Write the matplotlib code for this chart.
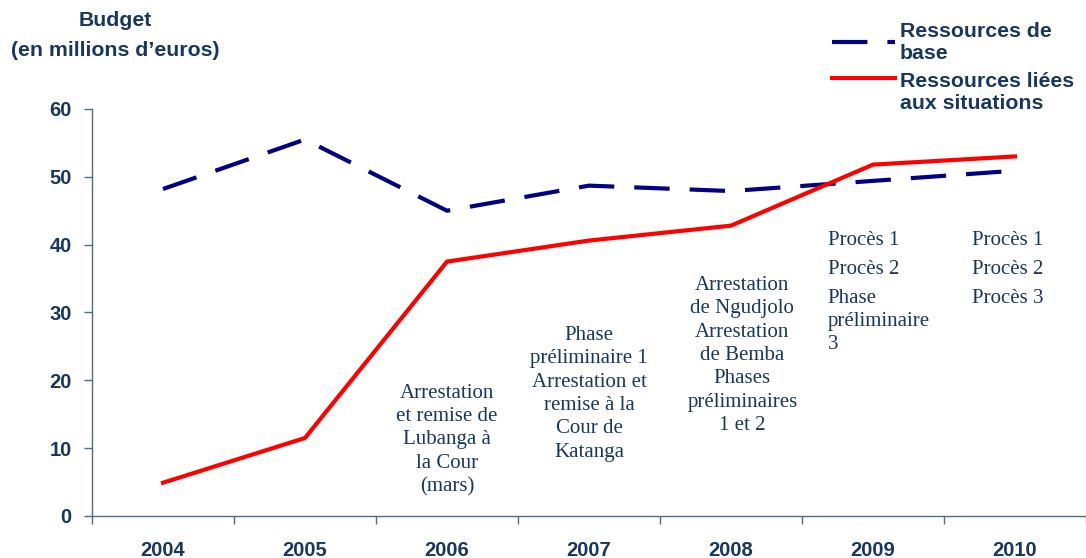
import matplotlib.pyplot as plt
import numpy as np

# data
annees = ["2004", "2005", "2006", "2007", "2008", "2009", "2010"]
ressources_base = [48.2, 55.5, 45.0, 48.7, 47.9, 49.4, 50.9]
ressources_situations = [4.9, 11.5, 37.5, 40.6, 42.8, 51.8, 53.0]
yticks = [0, 10, 20, 30, 40, 50, 60]

notes_centre = {
    2: "Arrestation\net remise de\nLubanga à\nla Cour\n(mars)",
    3: "Phase\npréliminaire 1\nArrestation et\nremise à la\nCour de\nKatanga",
    4: "Arrestation\nde Ngudjolo\nArrestation\nde Bemba\nPhases\npréliminaires\n1 et 2",
}
notes_gauche = {
    5: ["Procès 1", "Procès 2", "Phase\npréliminaire\n3"],
    6: ["Procès 1", "Procès 2", "Procès 3"],
}

texte = "#17375e"
axe = "#4f6b8c"

fig = plt.figure(figsize=(10.86, 5.58), dpi=100)
ax = fig.add_axes([0.0847, 0.0753, 0.9153, 0.7294])

x = np.arange(len(annees))
ax.plot(x, ressources_base, color="#000080", lw=3.0, dashes=(8.5, 4.8),
        solid_capstyle="butt", dash_capstyle="butt")
ax.plot(x, ressources_situations, color="#ff0000", lw=3.0)

ax.set_xlim(-0.5, 6.45)
ax.set_ylim(0, 60)
ax.set_yticks(yticks)
ax.set_xticks(x)
ax.set_xticklabels(annees)
ax.set_xticks(np.arange(-0.5, 7, 1), minor=True)
ax.tick_params(axis="x", which="major", length=0, pad=18)
ax.tick_params(axis="x", which="minor", length=6, color=axe, width=1)
ax.tick_params(axis="y", length=6, color=axe, width=1, pad=8.5)
for lab in ax.get_xticklabels() + ax.get_yticklabels():
    lab.set_fontsize(14.5)
    lab.set_fontweight("bold")
    lab.set_color(texte)
    lab.set_family("Liberation Sans")

for s in ["top", "right"]:
    ax.spines[s].set_visible(False)
for s in ["left", "bottom"]:
    ax.spines[s].set_color(axe)
    ax.spines[s].set_linewidth(1)

# annotations
serif = dict(family="Liberation Serif", fontsize=15, color=texte)
ax.text(2.0, 19.5, notes_centre[2], ha="center", va="top", linespacing=1.31, **serif)
ax.text(3.0, 28.0, notes_centre[3], ha="center", va="top", linespacing=1.31, **serif)
ax.text(4.08, 35.4, notes_centre[4], ha="center", va="top", linespacing=1.31, **serif)

for i, lignes in notes_gauche.items():
    x0 = 4.68 if i == 5 else 5.70
    y0 = 42.0
    for ligne in lignes:
        ax.text(x0, y0, ligne, ha="left", va="top", linespacing=1.31, **serif)
        y0 -= 4.25

# y label
fig.text(0.106, 1 - 11 / 558, "Budget\n(en millions d’euros)", ha="center", va="top",
         fontsize=15.3, fontweight="bold", color=texte, family="Liberation Sans",
         linespacing=1.75)

# legend drawn by hand
fig.lines.append(plt.Line2D([832 / 1086, 895 / 1086], [1 - 42 / 558] * 2,
                            color="#000080", lw=3.0, dashes=(8.5, 4.8),
                            transform=fig.transFigure))
fig.lines.append(plt.Line2D([832 / 1086, 895 / 1086], [1 - 78 / 558] * 2,
                            color="#ff0000", lw=3.0, transform=fig.transFigure))
fig.text(900 / 1086, 1 - 22 / 558, "Ressources de\nbase", ha="left", va="top",
         fontsize=15.3, fontweight="bold", color=texte, family="Liberation Sans",
         linespacing=1.2)
fig.text(900 / 1086, 1 - 72 / 558, "Ressources liées\naux situations", ha="left",
         va="top", fontsize=15.3, fontweight="bold", color=texte,
         family="Liberation Sans", linespacing=1.2)

fig.savefig("out.png", dpi=100)
